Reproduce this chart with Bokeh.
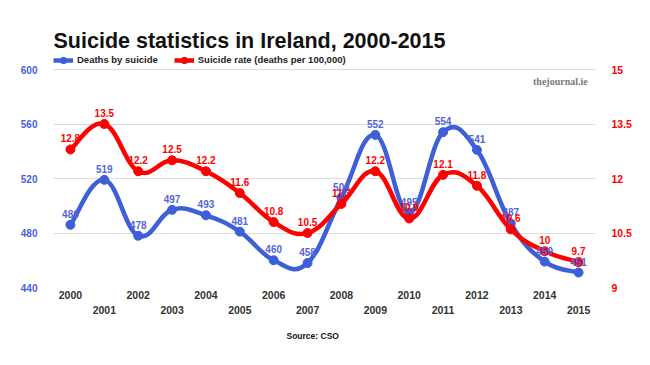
from bokeh.plotting import figure
from bokeh.models import (Range1d, LinearAxis, FixedTicker, Label, Legend, LegendItem,
                          ColumnDataSource, Title)
from bokeh.embed import file_html
from bokeh.resources import INLINE

years = list(range(2000, 2016))
deaths = [486, 519, 478, 497, 493, 481, 460, 458, 506, 552, 495, 554, 541, 487, 459, 451]
rate = [12.8, 13.5, 12.2, 12.5, 12.2, 11.6, 10.8, 10.5, 11.3, 12.2, 10.9, 12.1, 11.8, 10.6, 10.0, 9.7]
left_ticks = [440, 480, 520, 560, 600]
right_ticks = [9, 10.5, 12, 13.5, 15]
even_years = [y for y in years if y % 2 == 0]
odd_years = [y for y in years if y % 2 == 1]

BLUE = "#3d5fd8"
BLUE_TXT = "#5565d8"
RED = "#ff0000"
FONT = "Liberation Sans"

# layout (page pixels): frame from y=20 to y=287, so that the 440..600 band sits at 287..69
TOP_PX, GRID_TOP_PX, BOTTOM_PX = 20, 69, 287
PX_PER_UNIT_L = (BOTTOM_PX - GRID_TOP_PX) / (left_ticks[-1] - left_ticks[0])
PX_PER_UNIT_R = (BOTTOM_PX - GRID_TOP_PX) / (right_ticks[-1] - right_ticks[0])
y_top_l = left_ticks[-1] + (GRID_TOP_PX - TOP_PX) / PX_PER_UNIT_L
y_top_r = right_ticks[-1] + (GRID_TOP_PX - TOP_PX) / PX_PER_UNIT_R


def smooth_segments(xs, ys, t=0.2):
    n = len(xs)
    out = {k: [] for k in ("x0", "y0", "x1", "y1", "cx0", "cy0", "cx1", "cy1")}
    for i in range(n - 1):
        ip = max(i - 1, 0)
        i2 = min(i + 2, n - 1)
        out["x0"].append(xs[i]); out["y0"].append(ys[i])
        out["x1"].append(xs[i + 1]); out["y1"].append(ys[i + 1])
        out["cx0"].append(xs[i] + (xs[i + 1] - xs[ip]) * t)
        out["cy0"].append(ys[i] + (ys[i + 1] - ys[ip]) * t)
        out["cx1"].append(xs[i + 1] - (xs[i2] - xs[i]) * t)
        out["cy1"].append(ys[i + 1] - (ys[i2] - ys[i]) * t)
    return ColumnDataSource(out)


p = figure(width=648, height=362, output_backend="svg", toolbar_location=None,
           x_range=Range1d(1999.5, 2015.5), y_range=Range1d(left_ticks[0], y_top_l),
           min_border_left=53, min_border_right=53, min_border_top=TOP_PX,
           min_border_bottom=362 - BOTTOM_PX)
p.extra_y_ranges = {"rate": Range1d(right_ticks[0], y_top_r)}
p.outline_line_color = None
p.background_fill_color = "white"
p.border_fill_color = "white"
p.xgrid.visible = False
p.ygrid.grid_line_color = "#dcdcdc"
p.ygrid.ticker = FixedTicker(ticks=left_ticks)

# left axis
ya = p.yaxis[0]
ya.ticker = FixedTicker(ticks=left_ticks)
ya.axis_line_color = None
ya.major_tick_line_color = None
ya.minor_tick_line_color = None
ya.major_label_standoff = 10
ya.major_label_text_color = "#4a5fdc"
ya.major_label_text_font = FONT
ya.major_label_text_font_style = "bold"
ya.major_label_text_font_size = "10px"

# right axis
ra = LinearAxis(y_range_name="rate", ticker=FixedTicker(ticks=right_ticks),
                major_label_overrides={v: f"{v:g}" for v in right_ticks})
ra.axis_line_color = None
ra.major_tick_line_color = None
ra.minor_tick_line_color = None
ra.major_label_standoff = 10
ra.major_label_text_color = RED
ra.major_label_text_font = FONT
ra.major_label_text_font_style = "bold"
ra.major_label_text_font_size = "10.5px"
p.add_layout(ra, "right")

# bottom axes (two rows)
def style_x(ax, ticks, standoff):
    ax.ticker = FixedTicker(ticks=ticks)
    ax.major_label_overrides = {y: str(y) for y in ticks}
    ax.axis_line_color = None
    ax.major_tick_line_color = None
    ax.minor_tick_line_color = None
    ax.major_tick_out = 0
    ax.major_label_standoff = standoff
    ax.major_label_text_color = "#333333"
    ax.major_label_text_font = FONT
    ax.major_label_text_font_style = "bold"
    ax.major_label_text_font_size = "10.5px"

style_x(p.xaxis[0], even_years, 3)
xa2 = LinearAxis()
style_x(xa2, odd_years, 4)
p.add_layout(xa2, "below")

# series
bsrc = smooth_segments(years, deaths)
rsrc = smooth_segments(years, rate)
bl = p.bezier(x0="x0", y0="y0", x1="x1", y1="y1", cx0="cx0", cy0="cy0", cx1="cx1", cy1="cy1",
              source=bsrc, line_color=BLUE, line_width=4.5)
bp = p.scatter(years, deaths, size=9, color=BLUE)
rl = p.bezier(x0="x0", y0="y0", x1="x1", y1="y1", cx0="cx0", cy0="cy0", cx1="cx1", cy1="cy1",
              source=rsrc, line_color=RED, line_width=4.5, y_range_name="rate")
rp = p.scatter(years, rate, size=9, color=RED, y_range_name="rate")

p.text(years, deaths, text=[str(v) for v in deaths], text_color=BLUE_TXT,
       text_font_size="10px", text_font_style="bold", text_align="center",
       text_baseline="middle", y_offset=-11, text_font={"value": FONT})
p.text(years, rate, text=[f"{v:g}" for v in rate], text_color=RED,
       text_font_size="10px", text_font_style="bold", text_align="center",
       text_baseline="middle", y_offset=-11, text_font={"value": FONT}, y_range_name="rate")

# legend (inside the frame, in the band above the grid)
legend = Legend(items=[LegendItem(label="Deaths by suicide", renderers=[bl, bp]),
                       LegendItem(label="Suicide rate (deaths per 100,000)", renderers=[rl, rp])],
                orientation="horizontal", location=(0, BOTTOM_PX - 67.5), padding=0, margin=0,
                spacing=16, glyph_width=20, glyph_height=16, label_standoff=4,
                label_height=12,
                label_text_font=FONT, label_text_font_style="bold",
                label_text_font_size="9.5px", label_text_color="#222222",
                background_fill_alpha=0, border_line_color=None)
p.add_layout(legend, "center")

# title and logo (inside the frame)
p.add_layout(Label(x=1999.5, y=left_ticks[-1] + (GRID_TOP_PX - 40) / PX_PER_UNIT_L,
                   text="Suicide statistics in Ireland, 2000-2015",
                   text_font=FONT, text_font_style="bold", text_font_size="21.5px",
                   text_color="#111111", text_baseline="middle", text_align="left"))
p.add_layout(Label(x=2015.27, y=left_ticks[-1] - (80.7 - GRID_TOP_PX) / PX_PER_UNIT_L,
                   text="thejournal.ie", text_font="Liberation Serif",
                   text_font_style="bold", text_font_size="10px", text_color="#7a7a7a",
                   text_baseline="middle", text_align="right"))

# source line below the axes
src = Title(text="Source: CSO", align="left", offset=233, text_font=FONT,
            text_font_style="bold", text_font_size="8.5px", text_color="#111111", standoff=24)
p.add_layout(src, "below")

open("out.html", "w").write(file_html(p, INLINE))
